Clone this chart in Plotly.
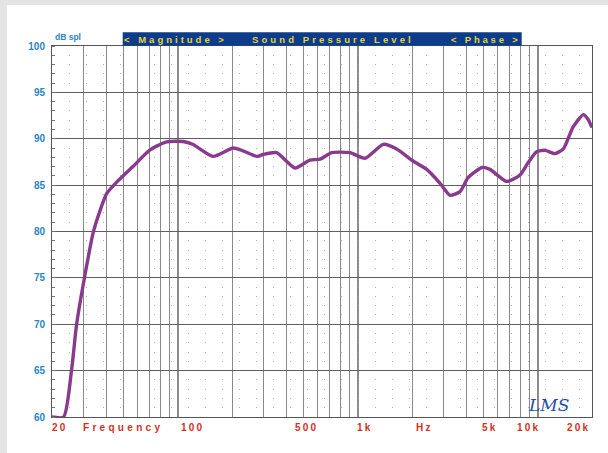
import plotly.graph_objects as go
import math

# ---- data ----
freq_hz = [20, 23.2, 25.7, 27.4, 29.9, 33.9, 36.9, 40.3, 45.6, 56.3, 70.1, 86.7, 106.8, 121,
           157, 203, 230, 275, 297, 354, 448, 542, 617, 716, 905, 1096, 1386, 1644, 2028,
           2414, 2864, 3252, 3696, 4096, 4896, 5420, 6716, 7962, 8820, 9860, 10960, 12460,
           13860, 15740, 17900, 19000, 20000]
spl_db = [60, 60, 65.1, 70.0, 74.4, 79.9, 82.2, 84.1, 85.3, 87.0, 88.8, 89.66, 89.7, 89.4,
          88.1, 89.0, 88.7, 88.1, 88.3, 88.5, 86.85, 87.7, 87.8, 88.5, 88.5, 87.9, 89.4, 88.9,
          87.6, 86.7, 85.2, 83.9, 84.3, 85.8, 86.9, 86.7, 85.4, 86.1, 87.4, 88.6, 88.75, 88.4,
          88.9, 91.3, 92.6, 92.1, 91.2]

grid_freqs = [20, 30, 40, 50, 60, 70, 80, 90, 100, 200, 300, 400, 500, 600, 700, 800, 900,
              1000, 2000, 3000, 4000, 5000, 6000, 7000, 8000, 9000, 10000, 20000]
major_freqs = [100, 1000, 10000]
y_ticks = [60, 65, 70, 75, 80, 85, 90, 95, 100]

x_labels = ["20", "Frequency", "100", "500", "1k", "Hz", "5k", "10k", "20k"]
x_label_freqs = [22.1, 49.3, 120, 521, 1091, 2354, 5459, 8881, 16800]

banner_texts = ["< Magnitude >", "Sound Pressure Level", "< Phase >"]

# ---- figure ----
W, H = 608, 453
L, R, T, B = 52, 16, 46, 36
plot_w = W - L - R
plot_h = H - T - B

def px_x(p):
    return (p - L) / plot_w

def px_y(p):
    return (H - B - p) / plot_h

def spaced(t, sp):
    return '<span style="letter-spacing:%gpx">%s</span>' % (sp, t)

fig = go.Figure()
fig.add_trace(go.Scatter(
    x=freq_hz, y=spl_db, mode="lines",
    line=dict(color="#8a3a8e", width=3.4, shape="spline", smoothing=0.6),
    hoverinfo="skip", showlegend=False, cliponaxis=True,
))

shapes = []
# light gray page edges (left and top)
shapes.append(dict(type="rect", xref="paper", yref="paper",
                   x0=px_x(-5), x1=px_x(7), y0=px_y(H + 5), y1=px_y(-5),
                   fillcolor="#e4e4e4", line=dict(width=0), layer="below"))
shapes.append(dict(type="rect", xref="paper", yref="paper",
                   x0=px_x(-5), x1=px_x(W + 5), y0=px_y(5), y1=px_y(-5),
                   fillcolor="#e4e4e4", line=dict(width=0), layer="below"))
# darker decade lines
for f in major_freqs:
    shapes.append(dict(type="line", xref="x", yref="paper", x0=f, x1=f, y0=0, y1=1,
                       line=dict(color="#444444", width=1.6), layer="below"))
# banner
shapes.append(dict(type="rect", xref="paper", yref="paper",
                   x0=px_x(122.7), x1=px_x(521.7), y0=px_y(45.8), y1=px_y(32.3),
                   fillcolor="#0d3c8a", line=dict(width=0), layer="above"))

annotations = []
# banner texts
banner_pos = [(123, 227), (252, 413), (450, 521)]
banner_sp = [3.0, 3.1, 2.8]
for t, (a, b), sp in zip(banner_texts, banner_pos, banner_sp):
    annotations.append(dict(text=spaced(t, sp), xref="paper", yref="paper",
                            x=px_x((a + b) / 2), y=px_y(39.2), xanchor="center", yanchor="middle",
                            showarrow=False,
                            font=dict(family="Liberation Sans, Arial", size=9.5, color="#e6d23a",
                                      weight="bold")))
# x labels
for t, f in zip(x_labels, x_label_freqs):
    annotations.append(dict(text=spaced(t, 3.3 if t == "Frequency" else 2.2), xref="x", yref="paper",
                            x=math.log10(f), y=px_y(427.5), xanchor="center", yanchor="middle",
                            showarrow=False,
                            font=dict(family="Liberation Sans, Arial", size=10, color="#d4301e",
                                      weight="bold")))
# dB spl label
annotations.append(dict(text="dB spl", xref="paper", yref="paper",
                        x=px_x(53), y=px_y(44.5), xanchor="left", yanchor="bottom",
                        showarrow=False,
                        font=dict(family="Liberation Sans, Arial", size=8.5, color="#2a86c4",
                                  weight="bold")))
# LMS logo
annotations.append(dict(text="<i>LMS</i>", xref="paper", yref="paper",
                        x=px_x(548), y=px_y(405), xanchor="center", yanchor="middle",
                        showarrow=False,
                        font=dict(family="DejaVu Serif", size=17, color="#1d4fb0")))

fig.update_layout(
    width=W, height=H,
    margin=dict(l=L, r=R, t=T, b=B),
    paper_bgcolor="white",
    plot_bgcolor="white",
    shapes=shapes,
    annotations=annotations,
    showlegend=False,
)
fig.update_xaxes(
    type="log", range=[math.log10(20), math.log10(20000)],
    tickvals=grid_freqs, showticklabels=False, ticks="",
    showgrid=True, gridcolor="#8a8a8a", gridwidth=1,
    showline=True, linecolor="#555555", linewidth=1, mirror=True,
    zeroline=False,
)
fig.update_yaxes(
    range=[60, 100], tickvals=y_ticks, ticks="",
    showgrid=True, gridcolor="#5e5e5e", gridwidth=1.2,
    showline=True, linecolor="#555555", linewidth=1, mirror=True,
    zeroline=False, ticklabelstandoff=4,
    tickfont=dict(family="Liberation Sans, Arial", size=10, color="#2a86c4", weight="bold"),
    minor=dict(dtick=1, showgrid=True, gridcolor="#b0b0b0", griddash="1px,16px", gridwidth=1,
               ticks="inside", ticklen=3, tickcolor="#777777"),
)

post = """
var st = document.createElement('style');
st.textContent = 'html,body{margin:0;padding:0;overflow:hidden;width:608px;height:453px;background:#fff;}'
  + '::-webkit-scrollbar{display:none;width:0;height:0;}';
document.head.appendChild(st);
var gd = document.getElementById('{plot_id}');
gd.style.position = 'fixed'; gd.style.left = '0px'; gd.style.top = '0px';
"""
fig.write_html("out.html", config={"displayModeBar": False}, post_script=post)
